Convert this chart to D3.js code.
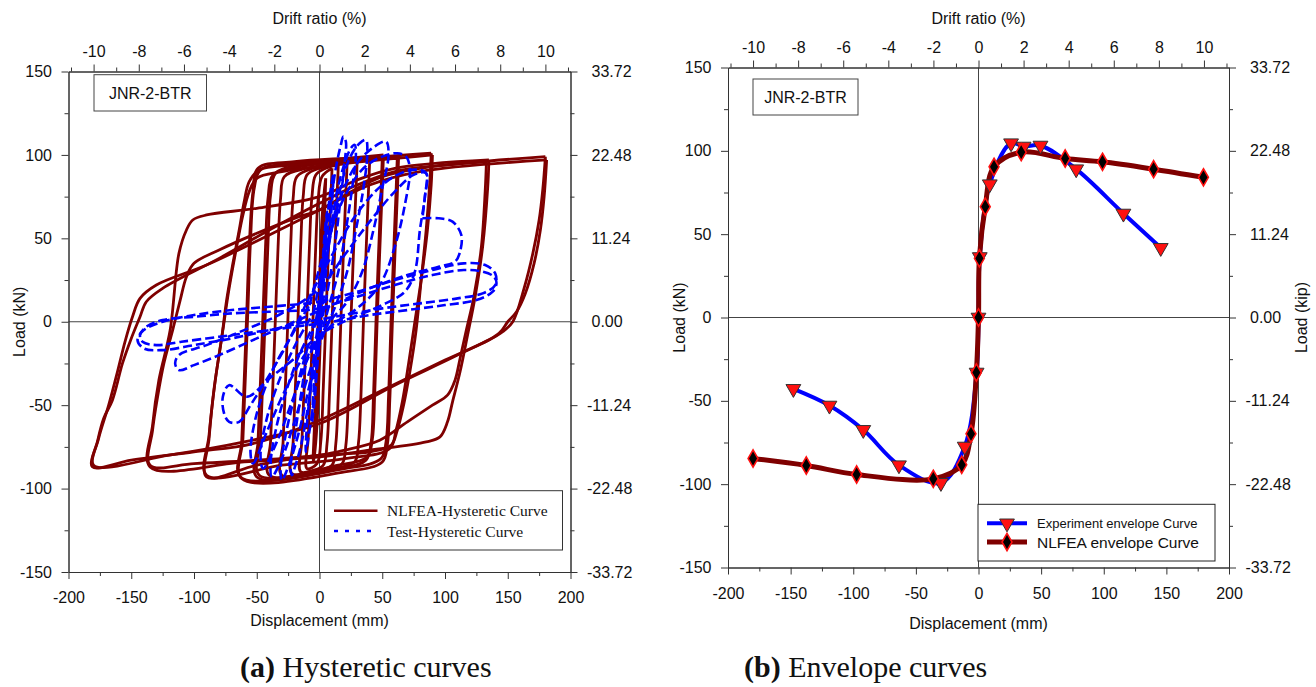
<!DOCTYPE html>
<meta charset="utf-8">
<style>
body { margin: 0; background: #fff; }
text { font-family: "Liberation Sans", Arial, sans-serif; fill: #111; }
.serif { font-family: "Liberation Serif", "Times New Roman", serif; }
</style>
<body>
<script src="https://cdn.jsdelivr.net/npm/d3@7"></script>
<script>
// ---- axis ticks ----
var dispTicks = [-200, -150, -100, -50, 0, 50, 100, 150, 200],
    dispMinor = [-175, -125, -75, -25, 25, 75, 125, 175],
    loadTicks = [-150, -100, -50, 0, 50, 100, 150],
    loadMinor = [-125, -75, -25, 25, 75, 125],
    driftTicks = [-10, -8, -6, -4, -2, 0, 2, 4, 6, 8, 10],
    driftMinor = [-11, -9, -7, -5, -3, -1, 1, 3, 5, 7, 9, 11],
    kipTicks = [-33.72, -22.48, -11.24, 0, 11.24, 22.48, 33.72],
    kipMinor = [-28.10, -16.86, -5.62, 5.62, 16.86, 28.10];

// ---- (a) NLFEA hysteretic cycles, [displacement mm, load kN] ----
var nlfeaCycles = [
  [[5,86],[4,62],[2,20],[0,-25],[-2,-62],[-4,-80],[-5,-84],[-4,-62],[-2,-20],[0,25],[2,62],[4,80],[5,86]],
  [[10,92],[9,74],[7,40],[5,0],[3,-40],[1,-72],[-2,-85],[-10,-88],[-9,-70],[-7,-35],[-5,5],[-3,45],[-1,74],[2,87],[10,92]],
  [[15,94],[14,76],[12,40],[10,0],[8,-42],[6,-73],[3,-86],[-5,-89],[-15,-90],[-14,-71],[-12,-35],[-10,5],[-8,45],[-6,75],[-3,88],[5,92],[15,94]],
  [[22,95],[21,77],[19,40],[17,0],[15,-43],[13,-73],[10,-86],[0,-89],[-22,-91],[-21,-72],[-19,-35],[-17,5],[-15,45],[-13,75],[-10,88],[0,92],[22,95]],
  [[30,96],[29,78],[27,40],[25,0],[23,-45],[21,-74],[18,-85],[5,-89],[-30,-92],[-29,-72],[-27,-35],[-25,5],[-23,45],[-21,74],[-18,87],[-5,92],[30,96]],
  [[40,97],[39,78],[37,40],[35,0],[33,-45],[31,-73],[28,-84],[10,-88],[-40,-92],[-39,-72],[-37,-35],[-35,5],[-33,45],[-31,74],[-28,87],[-10,92],[40,97]],
  [[50,98],[49,78],[47,40],[45,0],[43,-45],[41,-73],[37,-83],[15,-88],[-50,-93],[-49,-72],[-47,-35],[-45,5],[-43,45],[-41,74],[-37,88],[-15,93],[50,98]],
  [[51,100],[50,80],[48,42],[46,2],[44,-43],[42,-71],[38,-81],[15,-86],[-48,-92],[-47,-70],[-45,-32],[-43,8],[-41,48],[-39,76],[-35,89],[-15,94],[51,100]],
  [[62,99],[61,78],[59,40],[57,0],[55,-45],[53,-72],[49,-82],[20,-88],[-63,-93],[-62,-72],[-60,-35],[-58,5],[-56,45],[-53,78],[-49,92],[-20,96],[62,99]],
  [[63,98],[62,76],[60,38],[58,-2],[56,-47],[54,-74],[50,-84],[20,-90],[-62,-94],[-61,-70],[-59,-32],[-57,8],[-55,48],[-52,80],[-47,91],[-20,95],[63,98]],
  [[89,101],[88,85],[85,55],[81,25],[77,-5],[72,-30],[67,-50],[62,-65],[57,-74],[40,-78],[0,-80],[-50,-86],[-90,-93],[-88,-70],[-84,-40],[-78,-10],[-74,13],[-69,35],[-64,55],[-60,72],[-56,84],[-48,91],[-20,94],[20,97],[89,101]],
  [[90,100],[89,82],[86,55],[81,25],[76,0],[71,-25],[66,-48],[61,-65],[56,-76],[20,-82],[-30,-86],[-90,-92],[-88,-68],[-83,-35],[-77,-5],[-72,20],[-66,45],[-61,64],[-56,78],[-50,86],[-30,90],[10,94],[90,100]],
  [[133,96],[132,78],[129,45],[123,15],[117,-5],[112,-22],[108,-35],[102,-44],[90,-50],[70,-60],[48,-71],[20,-77],[0,-80],[-50,-83],[-100,-85],[-135,-86],[-133,-65],[-129,-45],[-124,-25],[-117,-5],[-111,13],[-106,27],[-100,35],[-80,43],[-50,53],[-20,62],[0,67],[25,78],[50,87],[80,92],[133,96]],
  [[135,97],[134,80],[130,45],[124,15],[118,-8],[112,-30],[106,-48],[102,-60],[96,-69],[85,-72],[40,-77],[0,-81],[-60,-84],[-135,-87],[-133,-62],[-128,-35],[-119,-5],[-112,41],[-106,55],[-101,61],[-90,64],[-50,68],[0,75],[30,85],[60,92],[135,97]],
  [[180,99],[178,80],[175,61],[170,41],[163,20],[154,0],[146,-6],[135,-11],[100,-23],[50,-41],[0,-59],[-53,-73],[-100,-78],[-150,-83],[-181,-87],[-177,-72],[-172,-58],[-165,-47],[-157,-25],[-150,-10],[-143,3],[-138,12],[-125,20],[-80,38],[-40,55],[0,71],[30,82],[60,90],[100,94],[180,99]],
  [[181,97],[179,75],[176,55],[171,35],[164,17],[157,6],[150,0],[143,-7],[110,-20],[60,-38],[0,-61],[-60,-72],[-120,-80],[-180,-86],[-176,-70],[-168,-50],[-161,-30],[-155,-12],[-149,3],[-143,14],[-130,22],[-90,34],[-40,52],[0,67],[40,82],[80,90],[181,97]]
];

// ---- (a) Test hysteretic cycles ----
var testCycles = [
  [[0,0],[2,28],[4,52],[6,66],[5,50],[3,25],[0,0],[-2,-25],[-4,-48],[-6,-60],[-5,-45],[-3,-22],[0,0]],
  [[0,5],[4,45],[8,74],[11,88],[10,72],[7,45],[3,12],[-1,-20],[-5,-50],[-9,-70],[-11,-78],[-10,-62],[-7,-38],[-3,-12],[0,5]],
  [[-2,-10],[3,30],[8,65],[13,92],[17,106],[19,111],[21,108],[20,95],[17,75],[13,50],[8,25],[3,5],[-3,-20],[-9,-50],[-15,-75],[-20,-88],[-22,-92],[-23,-88],[-20,-70],[-15,-45],[-9,-20],[-2,-10]],
  [[0,5],[7,45],[14,78],[20,95],[25,104],[28,106],[29,100],[26,80],[21,55],[15,30],[7,8],[0,-12],[-8,-38],[-16,-65],[-24,-85],[-30,-95],[-31,-88],[-27,-68],[-20,-45],[-12,-22],[-5,-5],[0,5]],
  [[-3,0],[6,40],[15,75],[24,98],[32,107],[37,109],[38,100],[35,80],[29,55],[22,30],[13,10],[3,-8],[-8,-30],[-20,-60],[-30,-82],[-38,-93],[-39,-85],[-34,-62],[-25,-38],[-15,-18],[-3,0]],
  [[-5,5],[5,40],[17,75],[30,95],[42,104],[53,108],[55,100],[50,80],[43,55],[34,30],[22,12],[8,0],[-8,-20],[-22,-48],[-34,-72],[-45,-88],[-47,-80],[-42,-58],[-32,-35],[-18,-12],[-5,5]],
  [[-8,10],[5,45],[20,75],[35,92],[50,99],[62,101],[69,99],[72,92],[68,70],[60,45],[48,22],[30,8],[10,-2],[-10,-18],[-28,-42],[-42,-66],[-53,-85],[-55,-78],[-50,-55],[-38,-30],[-22,-8],[-8,10]],
  [[-10,12],[10,40],[30,65],[50,82],[68,90],[80,91],[85,89],[84,75],[80,55],[76,30],[68,18],[50,10],[25,2],[0,-8],[-20,-22],[-40,-34],[-58,-45],[-72,-38],[-77,-45],[-76,-55],[-72,-60],[-64,-60],[-55,-50],[-40,-32],[-25,-12],[-10,12]],
  [[82,62],[95,62],[106,60],[113,52],[112,42],[108,36],[95,33],[70,28],[40,20],[10,10],[-20,0],[-50,-10],[-80,-20],[-100,-26],[-112,-29],[-115,-25],[-112,-20],[-90,-14],[-60,-5],[-30,5],[0,20],[20,40],[40,60],[60,78],[75,88],[85,89],[84,75],[82,62]],
  [[0,8],[30,15],[60,22],[90,28],[115,31],[130,30],[139,27],[141,23],[138,18],[125,13],[100,10],[70,7],[40,4],[10,0],[-20,-3],[-50,-6],[-80,-9],[-110,-12],[-130,-14],[-141,-12],[-143,-8],[-138,-3],[-125,1],[-100,3],[-70,5],[-40,6],[-10,7],[0,8]],
  [[0,12],[30,18],[60,25],[90,31],[115,35],[132,34],[140,29],[140,22],[130,17],[110,14],[80,11],[50,8],[20,4],[-10,0],[-40,-5],[-70,-10],[-100,-14],[-125,-17],[-140,-16],[-145,-11],[-140,-5],[-125,0],[-100,4],[-70,7],[-40,9],[-10,11],[0,12]]
];

// ---- (b) envelope curves ----
var expDisp = [-147.8, -119, -92, -63.5, -30, -11, -1.5, 0, 1, 9, 26, 36, 49.5, 78, 115.7, 145.5],
    expLoad = [-42.8, -52.8, -67.4, -88.6, -99.2, -77.4, -33, 0, 36.3, 80, 104.6, 102.6, 103.2, 89, 62.4, 41.8];
var feaDisp = [-180, -137.5, -97.3, -36.1, -13.4, -6, -1.7, 0, 0.7, 5.4, 12.4, 34.1, 69.2, 99, 139.8, 179.6],
    feaLoad = [-84.6, -88.8, -94.2, -96.8, -88.4, -69.8, -33, 0, 35.5, 66.5, 90.4, 99.2, 95.4, 93.4, 89, 84.1];

var RED = "#7f0000", BLUE = "#0000ff";

var svg = d3.select("body").append("svg")
    .attr("width", 1316)
    .attr("height", 687);

function styleAxis(g) {
  g.attr("font-family", "Liberation Sans, Arial, sans-serif").attr("font-size", 16);
  g.select(".domain").attr("stroke", "#333");
  g.selectAll(".tick line").attr("stroke", "#333");
  g.selectAll("text").attr("fill", "#111");
}

function makePanel(p) {
  var x = d3.scaleLinear().domain([-200, 200]).range([p.x0, p.x1]),
      y = d3.scaleLinear().domain([-150, 150]).range([p.y1, p.y0]),
      drift = d3.scaleLinear().domain([-200 / 18, 200 / 18]).range([p.x0, p.x1]),
      kip = d3.scaleLinear().domain([-33.72, 33.72]).range([p.y1, p.y0]);

  svg.append("clipPath").attr("id", p.id)
    .append("rect").attr("x", p.x0).attr("y", p.y0)
    .attr("width", p.x1 - p.x0).attr("height", p.y1 - p.y0);

  // zero lines
  svg.append("line").attr("x1", x(0)).attr("x2", x(0)).attr("y1", p.y0).attr("y2", p.y1)
    .attr("stroke", "#444").attr("stroke-width", 1);
  svg.append("line").attr("x1", p.x0).attr("x2", p.x1).attr("y1", y(0)).attr("y2", y(0))
    .attr("stroke", "#444").attr("stroke-width", 1);

  return {x: x, y: y, drift: drift, kip: kip, p: p};
}

function drawAxes(s) {
  var p = s.p;
  // bottom
  svg.append("g").attr("transform", "translate(0," + p.y1 + ")")
    .call(d3.axisBottom(s.x).tickValues(dispMinor).tickSize(4).tickSizeOuter(0).tickFormat(""))
    .call(styleAxis);
  svg.append("g").attr("transform", "translate(0," + p.y1 + ")")
    .call(d3.axisBottom(s.x).tickValues(dispTicks).tickSize(7).tickSizeOuter(0).tickPadding(13).tickFormat(function(d) { return String(d); }))
    .call(styleAxis);
  // top
  svg.append("g").attr("transform", "translate(0," + p.y0 + ")")
    .call(d3.axisTop(s.drift).tickValues(driftMinor).tickSize(4).tickSizeOuter(0).tickFormat(""))
    .call(styleAxis);
  svg.append("g").attr("transform", "translate(0," + p.y0 + ")")
    .call(d3.axisTop(s.drift).tickValues(driftTicks).tickSize(7).tickSizeOuter(0).tickPadding(8).tickFormat(function(d) { return String(d); }))
    .call(styleAxis);
  // left
  svg.append("g").attr("transform", "translate(" + p.x0 + ",0)")
    .call(d3.axisLeft(s.y).tickValues(loadMinor).tickSize(4).tickSizeOuter(0).tickFormat(""))
    .call(styleAxis);
  svg.append("g").attr("transform", "translate(" + p.x0 + ",0)")
    .call(d3.axisLeft(s.y).tickValues(loadTicks).tickSize(7).tickSizeOuter(0).tickPadding(9.5).tickFormat(function(d) { return String(d); }))
    .call(styleAxis);
  // right (kip)
  svg.append("g").attr("transform", "translate(" + p.x1 + ",0)")
    .call(d3.axisRight(s.kip).tickValues(kipMinor).tickSize(4).tickSizeOuter(0).tickFormat(""))
    .call(styleAxis);
  svg.append("g").attr("transform", "translate(" + p.x1 + ",0)")
    .call(d3.axisRight(s.kip).tickValues(kipTicks).tickSize(7).tickSizeOuter(0).tickFormat(function(d) { return d.toFixed(2); }))
    .call(styleAxis)
    .selectAll("text").attr("x", function(d) { return d < 0 ? 16.5 : 21; });

  // titles
  var cx = s.x(0);
  svg.append("text").attr("x", cx).attr("y", 24).attr("text-anchor", "middle")
    .attr("font-size", 16).text("Drift ratio (%)");
  svg.append("text").attr("x", cx).attr("y", p.titleY).attr("text-anchor", "middle")
    .attr("font-size", 16).text("Displacement (mm)");
  svg.append("text").attr("transform", "translate(" + p.kNx + "," + s.y(0) + ")rotate(-90)")
    .attr("text-anchor", "middle").attr("font-size", 16).attr("dy", "0.35em").text("Load (kN)");
  if (p.kipX) {
    svg.append("text").attr("transform", "translate(" + p.kipX + "," + s.y(0) + ")rotate(-90)")
      .attr("text-anchor", "middle").attr("font-size", 16).attr("dy", "0.35em").text("Load (kip)");
  }

  // specimen label
  svg.append("rect").attr("x", p.box[0]).attr("y", p.box[1]).attr("width", p.box[2]).attr("height", p.box[3])
    .attr("fill", "#fff").attr("stroke", "#444").attr("stroke-width", 1);
  svg.append("text").attr("x", p.box[0] + p.box[2] / 2).attr("y", p.box[1] + p.box[3] / 2 + 6)
    .attr("text-anchor", "middle").attr("font-size", 16).text("JNR-2-BTR");
}

// ================= (a) hysteretic =================
var A = makePanel({id: "clipA", x0: 68.5, x1: 570.5, y0: 71.5, y1: 572, titleY: 626, kNx: 19,
                   box: [94, 74.7, 112.5, 36.3]});
var lineA = d3.line().x(function(d) { return A.x(d[0]); }).y(function(d) { return A.y(d[1]); })
    .curve(d3.curveCatmullRom.alpha(0.5));

var gA = svg.append("g").attr("clip-path", "url(#clipA)");
gA.selectAll(".fea").data(nlfeaCycles).enter().append("path")
    .attr("d", lineA).attr("fill", "none").attr("stroke", RED).attr("stroke-width", 2.8);
gA.selectAll(".test").data(testCycles).enter().append("path")
    .attr("d", lineA).attr("fill", "none").attr("stroke", BLUE).attr("stroke-width", 2.6)
    .attr("stroke-dasharray", "9,4");
drawAxes(A);

// legend (a)
var lgA = svg.append("g");
lgA.append("rect").attr("x", 324.5).attr("y", 490.7).attr("width", 238).attr("height", 59.3)
  .attr("fill", "#fff").attr("stroke", "#333").attr("stroke-width", 1);
lgA.append("line").attr("x1", 334).attr("x2", 377.5).attr("y1", 510.7).attr("y2", 510.7)
  .attr("stroke", RED).attr("stroke-width", 2.6);
lgA.append("line").attr("x1", 334).attr("x2", 377.5).attr("y1", 531).attr("y2", 531)
  .attr("stroke", BLUE).attr("stroke-width", 2.6).attr("stroke-dasharray", "4,7");
lgA.append("text").attr("class", "serif").attr("x", 387).attr("y", 516).attr("font-size", 15.5)
  .text("NLFEA-Hysteretic Curve");
lgA.append("text").attr("class", "serif").attr("x", 387).attr("y", 536.5).attr("font-size", 15.5)
  .text("Test-Hysteretic Curve");

// ================= (b) envelope =================
var B = makePanel({id: "clipB", x0: 728, x1: 1229, y0: 67.5, y1: 567.5, titleY: 629, kNx: 679, kipX: 1301,
                   box: [753, 79, 105, 36]});
var lineB = d3.line().x(function(d) { return B.x(d[0]); }).y(function(d) { return B.y(d[1]); })
    .curve(d3.curveCatmullRom.alpha(0.5));
var expPts = d3.zip(expDisp, expLoad),
    feaPts = d3.zip(feaDisp, feaLoad);

var gB = svg.append("g").attr("clip-path", "url(#clipB)");
gB.append("path").attr("d", lineB(expPts)).attr("fill", "none").attr("stroke", BLUE).attr("stroke-width", 4);
gB.append("path").attr("d", lineB(feaPts)).attr("fill", "none").attr("stroke", RED).attr("stroke-width", 5);

var tri = d3.symbol().type(d3.symbolTriangle).size(95),
    dia = d3.symbol().type(d3.symbolDiamond).size(85);

svg.selectAll(".tri").data(expPts).enter().append("path")
  .attr("d", tri).attr("transform", function(d) { return "translate(" + B.x(d[0]) + "," + B.y(d[1]) + ")rotate(180)"; })
  .attr("fill", "#ff1010").attr("stroke", "#333").attr("stroke-width", 1);
svg.selectAll(".dia").data(feaPts).enter().append("path")
  .attr("d", dia).attr("transform", function(d) { return "translate(" + B.x(d[0]) + "," + B.y(d[1]) + ")"; })
  .attr("fill", "#000").attr("stroke", "#ff1010").attr("stroke-width", 1.6);

drawAxes(B);

// legend (b)
var lgB = svg.append("g");
lgB.append("rect").attr("x", 978).attr("y", 504.3).attr("width", 237).attr("height", 56.7)
  .attr("fill", "#fff").attr("stroke", "#222").attr("stroke-width", 1);
lgB.append("line").attr("x1", 987).attr("x2", 1027).attr("y1", 523.3).attr("y2", 523.3)
  .attr("stroke", BLUE).attr("stroke-width", 4);
lgB.append("path").attr("d", tri).attr("transform", "translate(1007,523.3)rotate(180)")
  .attr("fill", "#ff1010").attr("stroke", "#333").attr("stroke-width", 1);
lgB.append("line").attr("x1", 987).attr("x2", 1027).attr("y1", 542).attr("y2", 542)
  .attr("stroke", RED).attr("stroke-width", 5);
lgB.append("path").attr("d", dia).attr("transform", "translate(1007,542)")
  .attr("fill", "#000").attr("stroke", "#ff1010").attr("stroke-width", 1.6);
lgB.append("text").attr("x", 1037).attr("y", 527.8).attr("font-size", 13).text("Experiment envelope Curve");
lgB.append("text").attr("x", 1037).attr("y", 547.5).attr("font-size", 15.5).text("NLFEA envelope Curve");

// ================= captions =================
function caption(x, letter, rest) {
  var t = svg.append("text").attr("class", "serif").attr("font-size", 30)
    .attr("x", x).attr("y", 677);
  t.append("tspan").attr("font-weight", "bold").text("(" + letter + ")");
  t.append("tspan").text(" " + rest);
}
caption(240, "a", "Hysteretic curves");
caption(744, "b", "Envelope curves");
</script>
</body>
